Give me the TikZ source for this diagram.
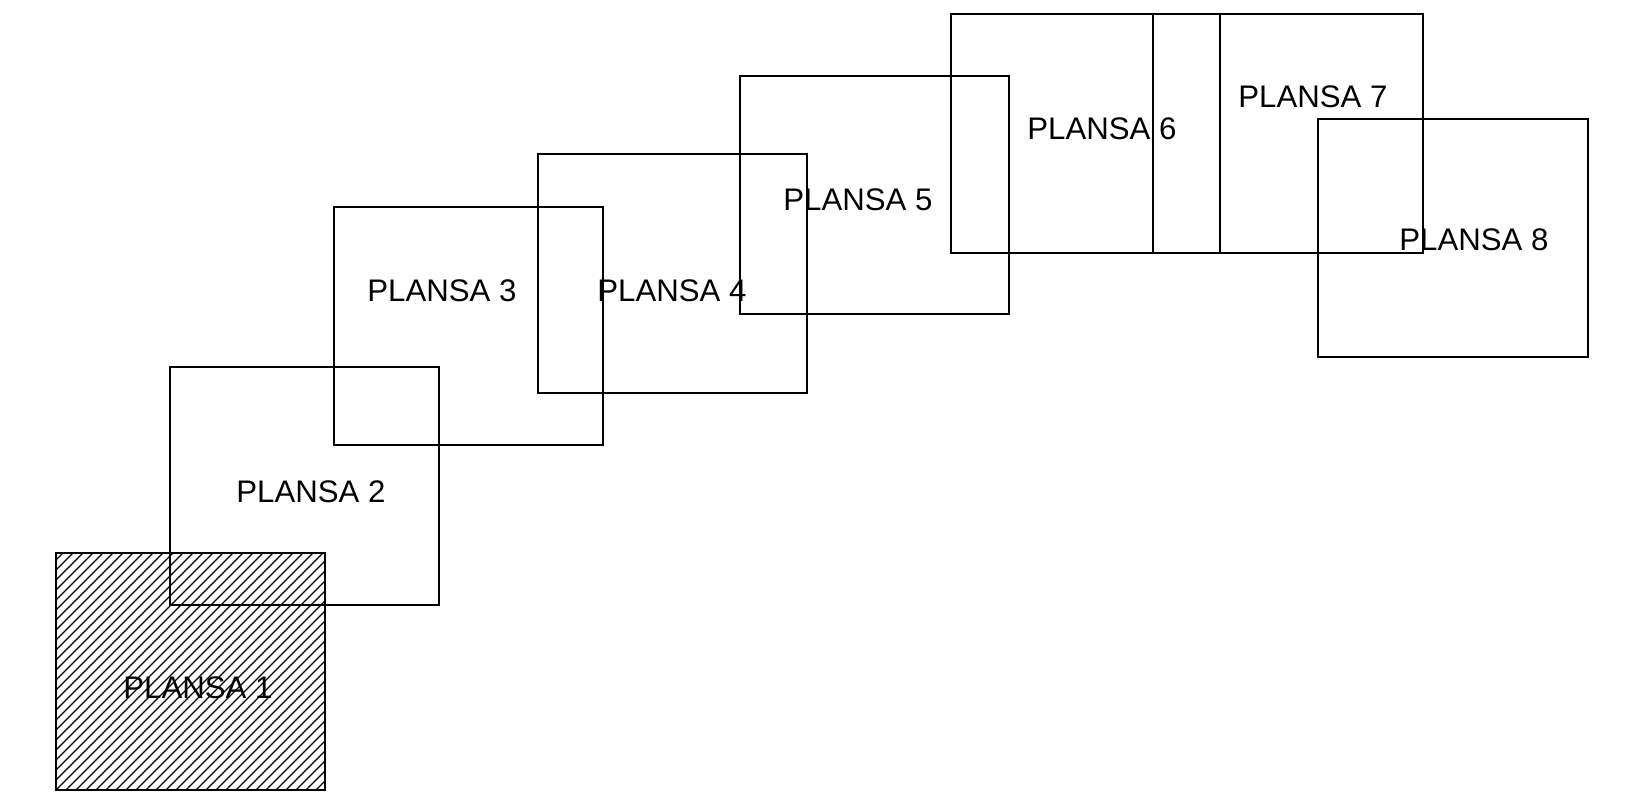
\documentclass[tikz,border=0pt]{standalone}
\usepackage{fontspec}
\setmainfont{Liberation Sans}

\tikzset{
  sheet/.style={draw=black, line width=0.8pt},
  sheetlabel/.style={inner sep=0pt, font=\fontsize{15.6pt}{18pt}\selectfont},
  hatch/.style={line width=0.6pt}
}

\begin{document}
\begin{tikzpicture}[x=0.5pt, y=-0.5pt]
        \useasboundingbox (0,0) rectangle (1646,797);
        % hatched first sheet
        \begin{scope}
                \clip (56,553) rectangle (325,790);
                \foreach \i in {-300,-290,...,280}
                        \draw[hatch] (56+\i,790) -- ++(300,-300);
        \end{scope}
        \draw[sheet] (56,553) rectangle (325,790);
        \draw[sheet] (170,367) rectangle (439,605);
        \draw[sheet] (334,207) rectangle (603,445);
        \draw[sheet] (538,154) rectangle (807,393);
        \draw[sheet] (740,76) rectangle (1009,314);
        \draw[sheet] (951,14) rectangle (1220,253);
        \draw[sheet] (1153,14) rectangle (1423,253);
        \draw[sheet] (1318,119) rectangle (1588,357);
        % labels
        \node[sheetlabel] (p1) at (198,688) {PLANSA 1};
        \node[sheetlabel] (p2) at (311,492) {PLANSA 2};
        \node[sheetlabel] (p3) at (442,291) {PLANSA 3};
        \node[sheetlabel] (p4) at (672,291) {PLANSA 4};
        \node[sheetlabel] (p5) at (858,200) {PLANSA 5};
        \node[sheetlabel] (p6) at (1102,129) {PLANSA 6};
        \node[sheetlabel] (p7) at (1313,97) {PLANSA 7};
        \node[sheetlabel] (p8) at (1474,240) {PLANSA 8};
\end{tikzpicture}
\end{document}
